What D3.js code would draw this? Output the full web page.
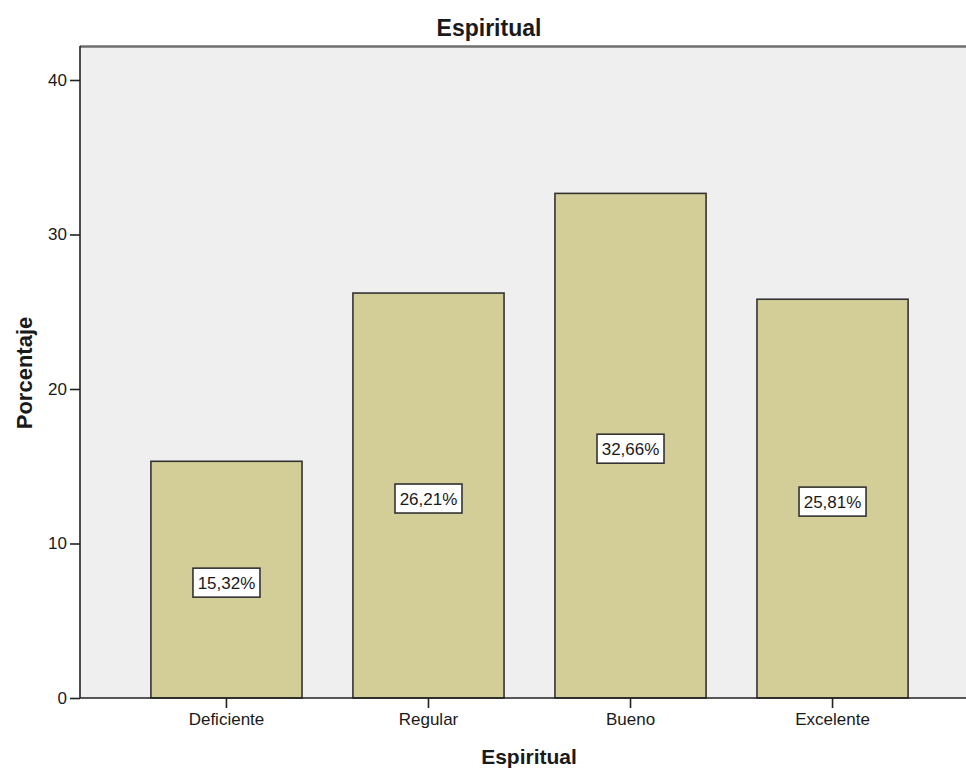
<!DOCTYPE html>
<html>
<head>
<meta charset="utf-8">
<script src="https://cdn.jsdelivr.net/npm/d3@7"></script>
<style>
  body { margin: 0; background: #fff; }
  text { font-family: "Liberation Sans", Arial, sans-serif; fill: #1a1a1a; }
</style>
</head>
<body>
<div id="chart"></div>
<script>
// data
const categories = ["Deficiente", "Regular", "Bueno", "Excelente"];
const percents = [15.32, 26.21, 32.66, 25.81];
const yTicks = [0, 10, 20, 30, 40];

const width = 966, height = 772;
const margin = { top: 46, right: 0, bottom: 74, left: 80 };

const svg = d3.select("#chart")
  .append("svg")
  .attr("width", width)
  .attr("height", height);

const data = categories.map((c, i) => ({ cat: c, value: percents[i] }));

// SCALES ==========================
// the plot frame runs a bit past the right edge of the picture
const x = d3.scaleBand()
  .domain(categories)
  .range([margin.left, 979])
  .paddingInner(0.252)
  .paddingOuter(0.351);

const y = d3.scaleLinear()
  .domain([0, 42.2])
  .range([height - margin.bottom, margin.top]);

// plot background
svg.append("rect")
  .attr("x", margin.left)
  .attr("y", margin.top)
  .attr("width", width - margin.left - margin.right)
  .attr("height", height - margin.top - margin.bottom)
  .attr("fill", "#efefef");

// top border
svg.append("line")
  .attr("x1", margin.left).attr("x2", width)
  .attr("y1", margin.top + 0.5).attr("y2", margin.top + 0.5)
  .attr("stroke", "#6e6e6e")
  .attr("stroke-width", 2.5);

// BARS ============================
svg.selectAll("rect.bar")
  .data(data)
  .join("rect")
  .attr("class", "bar")
  .attr("x", d => x(d.cat))
  .attr("y", d => y(d.value))
  .attr("width", x.bandwidth())
  .attr("height", d => y(0) - y(d.value))
  .attr("fill", "#d3ce98")
  .attr("stroke", "#333")
  .attr("stroke-width", 1.6);

// labels in boxes
const lab = svg.selectAll("g.lab")
  .data(data)
  .join("g")
  .attr("class", "lab")
  .attr("transform", d => `translate(${x(d.cat) + x.bandwidth() / 2}, ${(y(d.value) + y(0)) / 2 + 3})`);

lab.append("rect")
  .attr("x", -33.5).attr("y", -14.5)
  .attr("width", 67).attr("height", 29)
  .attr("fill", "#fff")
  .attr("stroke", "#333")
  .attr("stroke-width", 1.6);

lab.append("text")
  .attr("text-anchor", "middle")
  .attr("dy", "0.36em")
  .style("font-size", "17px")
  .text(d => d.value.toFixed(2).replace(".", ",") + "%");

// AXES ============================
const yAxis = svg.append("g")
  .attr("transform", `translate(${margin.left},0)`)
  .call(d3.axisLeft(y).tickValues(yTicks).tickSize(10).tickPadding(3));

const xAxis = svg.append("g")
  .attr("transform", `translate(0,${height - margin.bottom})`)
  .call(d3.axisBottom(x).tickSize(10).tickPadding(5).tickSizeOuter(0));

[yAxis, xAxis].forEach(a => {
  a.select(".domain").attr("stroke", "#222").attr("stroke-width", 1.6);
  a.selectAll(".tick line").attr("stroke", "#222").attr("stroke-width", 1.6);
  a.selectAll(".tick text")
    .style("font-size", "17px")
    .style("font-family", "'Liberation Sans', Arial, sans-serif")
    .attr("fill", "#1a1a1a");
});
yAxis.select(".domain").attr("d", `M-0,${margin.top}V${y(0)}`);
xAxis.select(".domain").attr("d", `M${margin.left},0H${width}`);

// TITLES ==========================
svg.append("text")
  .attr("x", 489).attr("y", 36)
  .attr("text-anchor", "middle")
  .style("font-size", "23px")
  .style("font-weight", "bold")
  .text("Espiritual");

svg.append("text")
  .attr("x", 529).attr("y", 764)
  .attr("text-anchor", "middle")
  .style("font-size", "21px")
  .style("font-weight", "bold")
  .text("Espiritual");

svg.append("text")
  .attr("transform", "translate(32,373) rotate(-90)")
  .attr("text-anchor", "middle")
  .style("font-size", "22px")
  .style("font-weight", "bold")
  .text("Porcentaje");
</script>
</body>
</html>
